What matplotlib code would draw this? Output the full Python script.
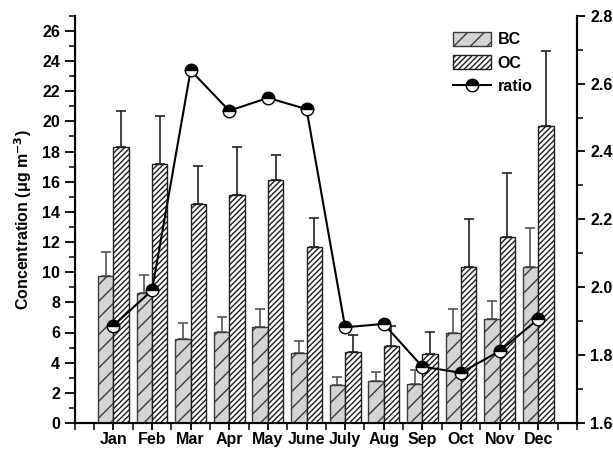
import matplotlib
matplotlib.use("Agg")
import matplotlib.pyplot as plt
import numpy as np
from matplotlib.ticker import MultipleLocator
from matplotlib.patches import Patch
from matplotlib.lines import Line2D

plt.rcParams['font.family'] = ['Liberation Sans', 'DejaVu Sans']
plt.rcParams['font.weight'] = 'bold'
plt.rcParams['hatch.linewidth'] = 1.0

months = ["Jan", "Feb", "Mar", "Apr", "May", "June", "July", "Aug", "Sep", "Oct", "Nov", "Dec"]
bc = [9.75, 8.65, 5.55, 6.04, 6.37, 4.62, 2.55, 2.79, 2.57, 5.99, 6.88, 10.37]
bc_err = [1.58, 1.19, 1.07, 1.01, 1.17, 0.80, 0.52, 0.57, 0.95, 1.55, 1.24, 2.55]
oc = [18.33, 17.14, 14.55, 15.14, 16.12, 11.66, 4.74, 5.13, 4.56, 10.37, 12.36, 19.66]
oc_err = [2.33, 3.19, 2.50, 3.13, 1.62, 1.96, 1.10, 1.33, 1.50, 3.17, 4.21, 4.98]
ratio = [1.887, 1.991, 2.639, 2.520, 2.558, 2.525, 1.882, 1.892, 1.766, 1.748, 1.812, 1.906]

x = np.arange(1, len(months) + 1)
w = 0.4

fig = plt.figure(figsize=(6.13, 4.5), dpi=100)
ax = fig.add_axes([0.122, 0.06, 0.819, 0.905])

ax.bar(x - w / 2, bc, width=w, color='#d4d4d4', edgecolor='#3a3a3a', hatch='//', linewidth=1.0, zorder=2)
ax.bar(x + w / 2, oc, width=w, color='white', edgecolor='#1e1e1e', hatch='//////', linewidth=1.0, zorder=2)
ax.errorbar(x - w / 2, bc, yerr=[np.zeros(len(bc)), bc_err], fmt='none', ecolor='#555555',
            elinewidth=1.2, capsize=3.5, capthick=1.2, zorder=1)
ax.errorbar(x + w / 2, oc, yerr=[np.zeros(len(oc)), oc_err], fmt='none', ecolor='#222222',
            elinewidth=1.2, capsize=3.5, capthick=1.2, zorder=1)

ax.set_xlim(0, 13)
ax.set_ylim(0, 27)
ax.set_xticks(x)
ax.set_xticklabels(months)
ax.xaxis.set_minor_locator(MultipleLocator(0.5))
ax.yaxis.set_major_locator(MultipleLocator(2))
ax.yaxis.set_minor_locator(MultipleLocator(1))
ax.set_ylabel('Concentration (μg m$^{\\mathbf{-3}}$)', fontsize=11.5, fontweight='bold', labelpad=6)
ax.spines['top'].set_visible(False)
for s in ['left', 'bottom', 'right']:
    ax.spines[s].set_linewidth(1.5)
ax.tick_params(axis='y', which='major', direction='out', length=7, width=1.3, labelsize=11.5)
ax.tick_params(axis='y', which='minor', direction='out', length=4, width=1.1)
ax.tick_params(axis='x', which='major', direction='out', length=5, width=1.3, labelsize=11.5, pad=1.5)
ax.tick_params(axis='x', which='minor', direction='out', length=5, width=1.1)

ax2 = ax.twinx()
ax2.set_ylim(1.6, 2.8)
ax2.plot(x, ratio, color='black', linewidth=1.5, marker='o', markersize=9,
         fillstyle='top', markerfacecolor='black', markerfacecoloralt='white',
         markeredgecolor='black', markeredgewidth=1.0, zorder=5)
ax2.yaxis.set_major_locator(MultipleLocator(0.2))
ax2.yaxis.set_minor_locator(MultipleLocator(0.1))
ax2.spines['top'].set_visible(False)
ax2.spines['right'].set_linewidth(1.5)
ax2.tick_params(axis='y', which='major', direction='out', length=6, width=1.3, labelsize=11.5)
ax2.tick_params(axis='y', which='minor', direction='out', length=4, width=1.1)
ax2.yaxis.set_major_formatter(matplotlib.ticker.FormatStrFormatter('%.1f'))

handles = [
    Patch(facecolor='#d4d4d4', edgecolor='#3a3a3a', hatch='//', label='BC'),
    Patch(facecolor='white', edgecolor='#1e1e1e', hatch='//////', label='OC'),
    Line2D([0], [0], color='black', linewidth=1.5, marker='o', markersize=9, fillstyle='top',
           markerfacecolor='black', markerfacecoloralt='white', markeredgecolor='black', label='ratio'),
]
ax2.legend(handles=handles, loc='upper left', bbox_to_anchor=(0.74, 0.975), frameon=False,
           fontsize=11.5, handlelength=2.4, handleheight=0.9, labelspacing=0.5, handletextpad=0.4,
           borderaxespad=0.0)

fig.savefig('out.png', dpi=100)
